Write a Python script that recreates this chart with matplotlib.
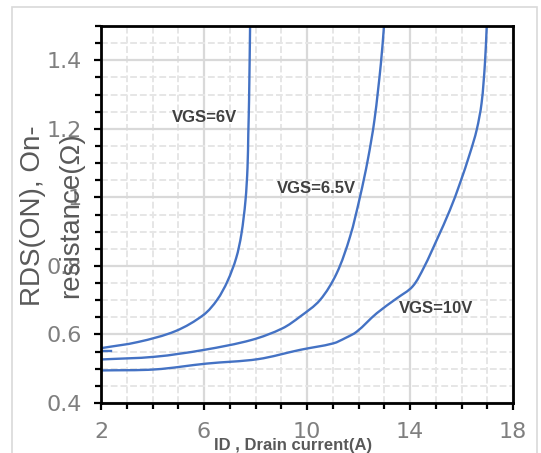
import matplotlib
matplotlib.use("agg")
import math
import matplotlib.pyplot as plt
from matplotlib.patches import Rectangle, PathPatch
from matplotlib.path import Path
from matplotlib.ticker import MultipleLocator

# curve data
id_6v = [2.0, 3.44, 4.9, 5.98, 6.51, 6.91, 7.25, 7.45, 7.61, 7.69, 7.72, 7.75, 7.79]
rds_6v = [0.560, 0.578, 0.610, 0.657, 0.701, 0.755, 0.823, 0.892, 0.990, 1.087, 1.185, 1.283, 1.50]

id_65v = [2.0, 4.1, 6.0, 7.85, 9.05, 9.73, 10.5, 11.15, 11.67, 12.06, 12.36, 12.62, 12.87, 12.99]
rds_65v = [0.527, 0.535, 0.555, 0.584, 0.618, 0.652, 0.70, 0.778, 0.885, 1.002, 1.109, 1.226, 1.391, 1.50]

id_10v = [2.0, 4.1, 6.1, 8.1, 9.73, 11.02, 11.5, 11.93, 12.71, 13.48, 14.1, 14.55,
          15.04, 15.55, 15.94, 16.33, 16.59, 16.78, 16.91, 16.98]
rds_10v = [0.495, 0.498, 0.515, 0.528, 0.555, 0.574, 0.590, 0.608, 0.662, 0.705, 0.740, 0.797,
           0.876, 0.963, 1.041, 1.129, 1.197, 1.275, 1.391, 1.50]

# little stray segment at the start of the 6V curve
stub_x = [2.0, 2.4]
stub_y = [0.553, 0.553]

labels = ["VGS=6V", "VGS=6.5V", "VGS=10V"]
label_pos = [(4.75, 1.233), (8.83, 1.027), (13.55, 0.676)]

x_ticks = [2, 6, 10, 14, 18]
y_ticks = [0.4, 0.6, 0.8, 1.0, 1.2, 1.4]
y_tick_labels = ["0.4", "0.6", "0.8", "1", "1.2", "1.4"]

W, H = 541, 453
XLIM, YLIM = (2, 18), (0.4, 1.5)
AX_BOX = [101 / W, 1 - 403 / H, 412 / W, 377 / H]


def smooth_path(xs, ys, sx, sy):
    """
    bezier path through the points, tangents from chord lengths measured in pixels
    (sx, sy = pixels per data unit) -- looks like excel's smoothed line
    """
    pts = list(zip(xs, ys))
    n = len(pts)

    def dist(a, b):
        return math.hypot((b[0] - a[0]) * sx, (b[1] - a[1]) * sy)

    tangents = []
    for i in range(n):
        p_prev = pts[max(i - 1, 0)]
        p_next = pts[min(i + 1, n - 1)]
        d = dist(p_prev, p_next)
        tangents.append(((p_next[0] - p_prev[0]) / d, (p_next[1] - p_prev[1]) / d))

    verts = [pts[0]]
    codes = [Path.MOVETO]
    for i in range(n - 1):
        p1, p2 = pts[i], pts[i + 1]
        h = dist(p1, p2) / 3
        c1 = (p1[0] + tangents[i][0] * h, p1[1] + tangents[i][1] * h)
        c2 = (p2[0] - tangents[i + 1][0] * h, p2[1] - tangents[i + 1][1] * h)
        verts += [c1, c2, p2]
        codes += [Path.CURVE4] * 3
    return Path(verts, codes)


fig = plt.figure(figsize=(W / 100, H / 100), dpi=100)
fig.patch.set_facecolor("white")

# thin grey frame round the chart area
fig.patches.append(Rectangle((12 / W, -0.02), 525 / W, 1 - 7 / H + 0.02, transform=fig.transFigure,
                             fill=False, edgecolor="#d9d9d9", linewidth=1.2))

ax = fig.add_axes(AX_BOX)
ax.set_xlim(*XLIM)
ax.set_ylim(*YLIM)

ax.xaxis.set_major_locator(MultipleLocator(4))
ax.xaxis.set_minor_locator(MultipleLocator(1))
ax.yaxis.set_major_locator(MultipleLocator(0.2))
ax.yaxis.set_minor_locator(MultipleLocator(0.05))
ax.set_xticks(x_ticks)
ax.set_yticks(y_ticks)
ax.set_yticklabels(y_tick_labels)

ax.grid(which="minor", color="#e6e6e6", linewidth=1.4, linestyle=(0, (3.5, 1.5)))
ax.grid(which="major", color="#d9d9d9", linewidth=1.6, linestyle="-")
ax.set_axisbelow(True)

for s in ax.spines.values():
    s.set_linewidth(2.0)
    s.set_color("black")

tick_font = ["Liberation Sans Narrow", "DejaVu Sans"]
ax.tick_params(which="major", direction="out", length=5, width=1.6, color="black",
               labelsize=16, labelcolor="#7f7f7f", pad=9)
ax.tick_params(which="minor", direction="out", length=4, width=1.6, color="black")
for lab in ax.get_xticklabels() + ax.get_yticklabels():
    lab.set_family(tick_font)

# pixels per data unit, for the smoothing only
px_x = AX_BOX[2] * W / (XLIM[1] - XLIM[0])
px_y = AX_BOX[3] * H / (YLIM[1] - YLIM[0])

line_color = "#4472c4"
for xs, ys in [(id_6v, rds_6v), (id_65v, rds_65v), (id_10v, rds_10v)]:
    ax.add_patch(PathPatch(smooth_path(xs, ys, px_x, px_y), fill=False, edgecolor=line_color,
                           linewidth=1.7, capstyle="round", joinstyle="round"))
ax.plot(stub_x, stub_y, color=line_color, linewidth=1.7)

for txt, (lx, ly) in zip(labels, label_pos):
    ax.text(lx, ly, txt, ha="left", va="center", fontsize=12, fontweight="bold",
            color="#404040", family="Liberation Sans")

# y axis title, two lines as in the datasheet
fig.text(33 / W, 1 - 216 / H, "RDS(ON), On-", rotation=90, ha="center", va="center",
         fontsize=20, color="#595959", family="Liberation Sans")
fig.text(71 / W, 1 - 215 / H, "resistance(Ω)", rotation=90, ha="center", va="center",
         fontsize=20, color="#595959", family="Liberation Sans")

fig.text(293 / W, 1 - 450 / H, "ID , Drain current(A)", ha="center", va="baseline",
         fontsize=12, fontweight="bold", color="#595959", family="Liberation Sans")

fig.savefig("out.png", dpi=100)
plt.close(fig)
